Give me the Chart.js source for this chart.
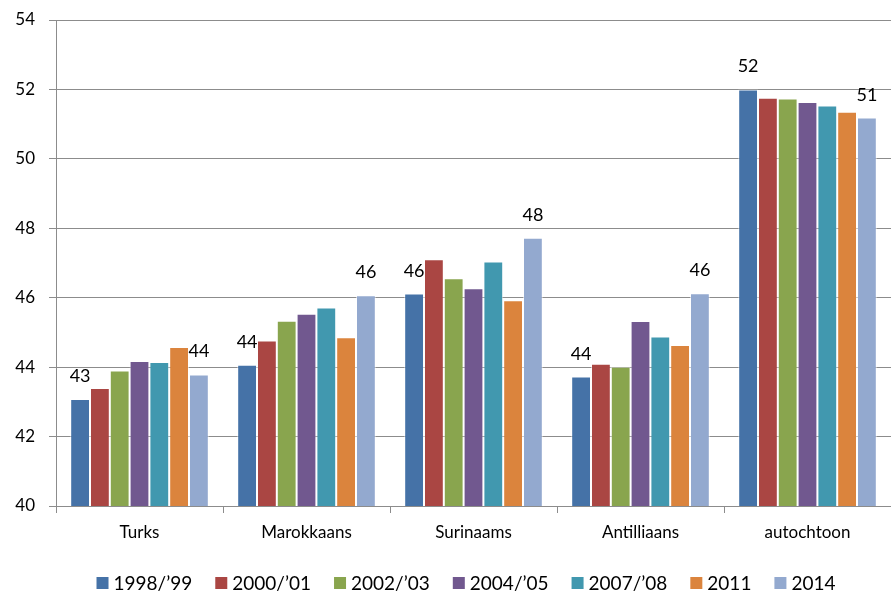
<!DOCTYPE html>
<html>
<head>
<meta charset="utf-8">
<script src="https://cdn.jsdelivr.net/npm/chart.js@4"></script>
<style>
  html, body { margin: 0; padding: 0; background: #fff; }
  #wrap { width: 891px; height: 594px; }
</style>
</head>
<body>
<div id="wrap"><canvas id="grafico" width="891" height="594"></canvas></div>
<script>
const categorias = ["Turks", "Marokkaans", "Surinaams", "Antilliaans", "autochtoon"];
const jaren = ["1998/\u201999", "2000/\u201901", "2002/\u201903", "2004/\u201905", "2007/\u201908", "2011", "2014"];
const kleuren = ["#4572A7", "#AA4643", "#89A54E", "#71588F", "#4198AF", "#DB843D", "#93A9CF"];

// waarden per jaar, in volgorde van de categorieën
const w1998 = [43.08, 44.07, 46.12, 43.73, 52.00];
const w2000 = [43.40, 44.77, 47.11, 44.10, 51.76];
const w2002 = [43.90, 45.34, 46.56, 44.01, 51.74];
const w2004 = [44.18, 45.54, 46.27, 45.33, 51.64];
const w2007 = [44.15, 45.72, 47.04, 44.88, 51.54];
const w2011 = [44.58, 44.86, 45.93, 44.64, 51.36];
const w2014 = [43.79, 46.07, 47.73, 46.13, 51.19];
const reeksen = [w1998, w2000, w2002, w2004, w2007, w2011, w2014];

const yTicks = [40, 42, 44, 46, 48, 50, 52, 54];

const lettertype = "Lato, 'Open Sans', sans-serif";
const grijs = "#8c8c8c";

// labels boven de eerste en laatste balk van elke groep
const waardeLabels = {
    id: "waardeLabels",
    afterDatasetsDraw(chart) {
        const ctx = chart.ctx;
        ctx.save();
        ctx.font = "18px " + lettertype;
        ctx.fillStyle = "#000";
        ctx.textAlign = "center";
        ctx.textBaseline = "alphabetic";
        [0, reeksen.length - 1].forEach((di) => {
            const meta = chart.getDatasetMeta(di);
            meta.data.forEach((bar, i) => {
                const v = chart.data.datasets[di].data[i];
                ctx.fillText(Math.round(v).toString(), bar.x, bar.y - 17);
            });
        });
        ctx.restore();
    },
};

// legenda onderaan, zelf getekend
const legenda = {
    id: "legenda",
    afterDraw(chart) {
        const ctx = chart.ctx;
        ctx.save();
        ctx.font = "19px " + lettertype;
        ctx.textBaseline = "middle";
        ctx.textAlign = "left";
        const box = 12, gat = 5, tussen = 23;
        const breedtes = jaren.map((j) => ctx.measureText(j).width);
        const totaal = breedtes.reduce((a, b) => a + b, 0) + jaren.length * (box + gat) + (jaren.length - 1) * tussen;
        let x = 466 - totaal / 2;
        const y = 583;
        jaren.forEach((j, i) => {
            ctx.fillStyle = kleuren[i];
            ctx.fillRect(x, y - box / 2, box, box);
            ctx.fillStyle = "#000";
            ctx.fillText(j, x + box + gat, y + 1);
            x += box + gat + breedtes[i] + tussen;
        });
        ctx.restore();
    },
};

const ctx = document.getElementById("grafico").getContext("2d");
new Chart(ctx, {
    type: "bar",
    data: {
        labels: categorias,
        datasets: reeksen.map((r, i) => ({
            label: jaren[i],
            data: r,
            backgroundColor: kleuren[i],
            borderColor: "rgba(255,255,255,0.55)",
            borderWidth: 1,
            categoryPercentage: 0.83,
            barPercentage: 1.0,
        })),
    },
    options: {
        responsive: false,
        animation: false,
        layout: { padding: { top: 20, right: 0, left: 0, bottom: 0 } },
        plugins: {
            legend: { display: false },
            tooltip: { enabled: false },
        },
        scales: {
            x: {
                grid: {
                    offset: true,
                    drawOnChartArea: false,
                    drawTicks: true,
                    tickLength: 7,
                    color: grijs,
                },
                border: { color: grijs, width: 1 },
                ticks: {
                    color: "#000",
                    font: { family: lettertype, size: 17 },
                    padding: 9,
                },
                afterFit(scale) {
                    scale.height = 88;
                    scale.paddingLeft = 0;
                    scale.paddingRight = 0;
                },
            },
            y: {
                min: 40,
                max: 54,
                afterBuildTicks(scale) {
                    scale.ticks = yTicks.map((v) => ({ value: v }));
                },
                grid: {
                    color: grijs,
                    lineWidth: 1,
                    tickLength: 7,
                },
                border: { color: grijs, width: 1 },
                ticks: {
                    color: "#000",
                    font: { family: lettertype, size: 17 },
                    padding: 14,
                },
                afterFit(scale) {
                    scale.width = 56;
                    scale.paddingTop = 0;
                    scale.paddingBottom = 0;
                },
            },
        },
    },
    plugins: [waardeLabels, legenda],
});
</script>
</body>
</html>
